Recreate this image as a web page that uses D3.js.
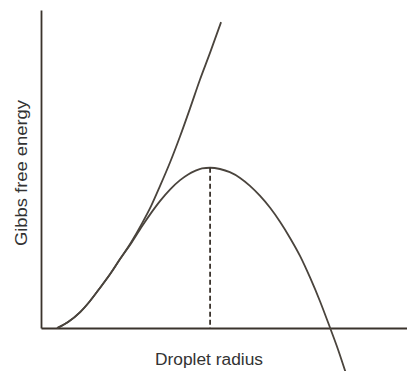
<!DOCTYPE html>
<html>
<head>
<meta charset="utf-8">
<script src="https://cdn.jsdelivr.net/npm/d3@7"></script>
<style>
  body { margin: 0; background: #fff; }
  svg { display: block; }
</style>
</head>
<body>
<script>
// Gibbs free energy vs droplet radius (nucleation sketch)
// values, arbitrary units

// surface term only (the steep upper curve)
var surfR = [0.44, 0.74, 1.07, 1.34, 1.61, 1.89, 2.16, 2.46, 2.76, 3.01, 3.25,
             3.53, 3.80, 4.07, 4.34, 4.62, 4.92];
var surfG = [0, 0.19, 0.50, 0.85, 1.26, 1.70, 2.17, 2.69, 3.29, 3.84, 4.46,
             5.22, 6.03, 6.90, 7.80, 8.66, 9.62];

// total free energy (rises, peaks, falls through zero)
var totalR = [0.44, 0.74, 1.07, 1.34, 1.61, 1.89, 2.16, 2.46, 2.76, 3.01, 3.25,
              3.53, 3.80, 4.02, 4.21, 4.40, 4.62, 4.89, 5.16, 5.44, 5.71, 5.98,
              6.26, 6.53, 6.80, 7.08, 7.35, 7.62, 7.90, 8.12, 8.33];
var totalG = [0, 0.19, 0.50, 0.85, 1.26, 1.70, 2.17, 2.66, 3.20, 3.62, 3.99,
              4.36, 4.65, 4.83, 4.94, 5.02, 5.04, 5.00, 4.90, 4.72, 4.47, 4.16,
              3.78, 3.34, 2.84, 2.26, 1.59, 0.85, 0, -0.69, -1.42];

// critical radius (top of the barrier)
var critR = 4.62;
var critG = 5.04;

var xLabel = "Droplet radius";
var yLabel = "Gibbs free energy";

var w = 407;
var h = 371;

var svg = d3.select("body")
  .append("svg")
  .attr("width", w)
  .attr("height", h);

// scales, origin at the corner of the axes
var scaleX = d3.scaleLinear()
  .domain([0, 10])
  .range([41, 407]);

var scaleY = d3.scaleLinear()
  .domain([0, 10])
  .range([328, 10]);

var lineColor = "#4a443d";
var axisColor = "#3a332c";

// axes, no ticks
svg.append("g")
  .attr("transform", "translate(0," + scaleY(0) + ")")
  .call(d3.axisBottom(scaleX).tickValues([]).tickSizeOuter(0))
  .select(".domain")
  .attr("stroke", axisColor)
  .attr("stroke-width", 1.8);

svg.append("g")
  .attr("transform", "translate(" + scaleX(0) + ",0)")
  .call(d3.axisLeft(scaleY).tickValues([]).tickSizeOuter(0))
  .select(".domain")
  .attr("stroke", axisColor)
  .attr("stroke-width", 1.8);

var line = d3.line()
  .x(function(d) { return scaleX(d[0]); })
  .y(function(d) { return scaleY(d[1]); })
  .curve(d3.curveMonotoneX);

var surf = d3.zip(surfR, surfG);
var total = d3.zip(totalR, totalG);

svg.append("path")
  .datum(surf)
  .attr("d", line)
  .attr("fill", "none")
  .attr("stroke", lineColor)
  .attr("stroke-width", 1.8);

svg.append("path")
  .datum(total)
  .attr("d", line)
  .attr("fill", "none")
  .attr("stroke", lineColor)
  .attr("stroke-width", 1.8);

// dashed drop from the maximum
svg.append("line")
  .attr("x1", scaleX(critR))
  .attr("x2", scaleX(critR))
  .attr("y1", scaleY(critG))
  .attr("y2", scaleY(0))
  .attr("stroke", axisColor)
  .attr("stroke-width", 1.8)
  .attr("stroke-dasharray", "5,3");

// axis titles
svg.append("text")
  .text(xLabel)
  .attr("x", 209)
  .attr("y", 365)
  .attr("text-anchor", "middle")
  .attr("font-family", "Liberation Sans, Arial, sans-serif")
  .attr("font-size", 16)
  .attr("fill", "#333")
  .attr("textLength", 108)
  .attr("lengthAdjust", "spacingAndGlyphs");

svg.append("text")
  .text(yLabel)
  .attr("transform", "translate(27,173) rotate(-90)")
  .attr("text-anchor", "middle")
  .attr("font-family", "Liberation Sans, Arial, sans-serif")
  .attr("font-size", 16)
  .attr("fill", "#333")
  .attr("textLength", 146)
  .attr("lengthAdjust", "spacingAndGlyphs");
</script>
</body>
</html>
